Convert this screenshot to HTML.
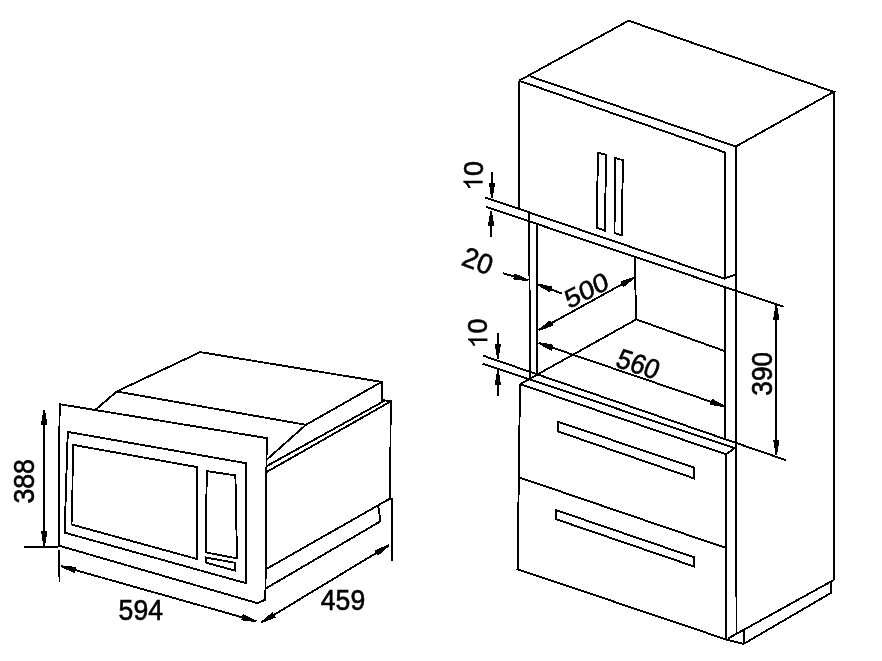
<!DOCTYPE html>
<html><head><meta charset="utf-8"><style>
html,body{margin:0;padding:0;background:#fff;}
svg{display:block;}
path{fill:none;stroke:#000;stroke-linejoin:miter;stroke-linecap:butt;shape-rendering:crispEdges;}
path.f{fill:#000;stroke:none;}
text{font-family:"Liberation Sans",sans-serif;fill:#000;stroke:#000;stroke-width:0.6px;}
svg{filter:grayscale(1);}
</style></head><body>
<svg width="882" height="661" viewBox="0 0 882 661">
<path d="M59.7,404.2 L266.7,438.1 L265.4,599.6 L257.6,603.2 L58.8,545.6 L59.0,470.0 L59.7,404.2 Z" stroke-width="1.9"/>
<path d="M67.8,431.9 L246.0,463.2 L246.1,583.2 L64.9,532.7 L65.6,500.0 L67.8,431.9 Z" stroke-width="1.9"/>
<path d="M72.8,444.8 L196.6,467.0 L197.3,530.0 L196.9,559.0 L71.5,524.5 L72.4,500.0 L72.8,444.8 Z" stroke-width="1.9"/>
<path d="M206.8,471.1 L235.4,475.4 L237.0,558.4 L205.8,552.4 L206.1,520.0 L206.8,471.1 Z" stroke-width="1.9"/>
<path d="M206.2,557.6 L234.6,562.7 L234.6,570.5 L206.2,562.7 Z" stroke-width="1.9"/>
<path d="M95.0,410.2 L116.7,391.5 L200.2,352.1 L381.6,381.9 L382.0,400.2 L390.7,401.0 L390.2,498.0" stroke-width="1.9"/>
<path d="M116.7,391.5 L306.0,424.8 L381.6,381.9" stroke-width="1.9"/>
<path d="M306.0,424.8 L266.7,459.7" stroke-width="1.9"/>
<path d="M266.7,466.1 L384.8,400.6" stroke-width="1.9"/>
<path d="M266.7,472.0 L389.5,402.1" stroke-width="1.9"/>
<path d="M390.3,498.4 L391.7,499.0 L391.7,561.0" stroke-width="1.9"/>
<path d="M265.4,569.5 L390.3,498.4" stroke-width="1.9"/>
<path d="M265.4,588.7 L380.1,521.5 L379.3,512.0 L378.1,505.9" stroke-width="1.9"/>
<path d="M44.2,409.5 L44.2,546.3" stroke-width="1.9"/>
<path class="f" d="M43.40,409.50 L41.00,424.50 L47.40,424.50 L45.00,409.50 Z"/>
<path class="f" d="M45.00,546.30 L47.40,531.30 L41.00,531.30 L43.40,546.30 Z"/>
<path d="M24.1,547.0 L58.1,547.0" stroke-width="1.9"/>
<path d="M59.2,549.7 L59.5,581.7" stroke-width="1.9"/>
<path d="M60.8,566.0 L256.3,621.3" stroke-width="1.9"/>
<path class="f" d="M60.58,566.77 L74.36,573.16 L76.10,567.00 L61.02,565.23 Z"/>
<path class="f" d="M256.52,620.53 L242.74,614.14 L241.00,620.30 L256.08,622.07 Z"/>
<path d="M261.3,622.5 L389.0,545.3" stroke-width="1.9"/>
<path class="f" d="M261.71,623.18 L275.79,617.48 L272.48,612.00 L260.89,621.82 Z"/>
<path class="f" d="M388.59,544.62 L374.51,550.32 L377.82,555.80 L389.41,545.98 Z"/>
<text x="0" y="0" font-size="28" text-anchor="middle" transform="translate(140.8,620.2) scale(0.95,1.03)">594</text>
<text x="0" y="0" font-size="28" text-anchor="middle" transform="translate(343,609.5) scale(0.95,1.03)">459</text>
<text x="0" y="0" font-size="28" text-anchor="middle" transform="translate(34,481.3) rotate(-90) scale(0.95,1.03)">388</text>
<path d="M519.1,80.7 L628.6,20.7 L833.7,91.8 L735.8,146.5" stroke-width="1.9"/>
<path d="M530.0,76.3 L735.8,146.5" stroke-width="1.9"/>
<path d="M519.1,80.7 L725.5,152.6" stroke-width="1.9"/>
<path d="M833.8,91.8 L833.9,579.9" stroke-width="1.9"/>
<path d="M735.9,146.5 L736.5,633.5" stroke-width="1.9"/>
<path d="M725.2,152.6 L725.2,279.0" stroke-width="1.9"/>
<path d="M725.2,287.3 L725.2,439.0" stroke-width="1.9"/>
<path d="M519.1,80.7 L519.1,208.6" stroke-width="1.9"/>
<path d="M485.1,197.4 L724.2,278.7 L735.4,274.6" stroke-width="1.9"/>
<path d="M486.1,206.9 L783.5,306.7" stroke-width="1.9"/>
<path d="M529.0,212.3 L530.2,378.6" stroke-width="1.9"/>
<path d="M536.8,223.9 L537.0,374.5" stroke-width="1.9"/>
<path d="M634.9,258.2 L636.0,319.5" stroke-width="1.9"/>
<path d="M636.3,319.4 L520.0,384.2" stroke-width="1.9"/>
<path d="M636.3,319.4 L724.6,351.0" stroke-width="1.9"/>
<path d="M483.2,355.7 L785.8,460.1" stroke-width="1.9"/>
<path d="M482.5,363.6 L734.7,448.1" stroke-width="1.9"/>
<path d="M520.0,384.1 L725.9,454.3 L734.7,448.1" stroke-width="1.9"/>
<path d="M520.0,384.1 L517.6,568.9" stroke-width="1.9"/>
<path d="M726.3,454.3 L726.3,639.3" stroke-width="1.9"/>
<path d="M519.8,477.6 L726.6,548.2" stroke-width="1.9"/>
<path d="M516.7,568.9 L726.3,639.5 L743.6,643.9" stroke-width="1.9"/>
<path d="M557.7,421.8 L694.0,467.5 L694.0,478.4 L557.7,431.3 Z" stroke-width="1.9"/>
<path d="M556.3,510.2 L694.1,557.3 L694.1,566.5 L556.3,519.3 Z" stroke-width="1.9"/>
<path d="M597.9,152.6 L606.2,154.8 L604.7,230.6 L596.8,227.6 Z" stroke-width="1.9"/>
<path d="M615.0,157.9 L622.9,160.2 L621.8,235.2 L614.5,233.2 Z" stroke-width="1.9"/>
<path d="M833.9,579.9 L728.0,638.5" stroke-width="1.9"/>
<path d="M831.0,581.6 L831.0,592.9 L743.6,643.9 L743.8,630.3" stroke-width="1.9"/>
<path d="M492.0,197.9 L492.0,172.1" stroke-width="1.9"/>
<path class="f" d="M492.80,197.90 L495.20,182.90 L488.80,182.90 L491.20,197.90 Z"/>
<path d="M491.1,211.3 L491.1,237.2" stroke-width="1.9"/>
<path class="f" d="M490.30,211.30 L487.90,226.30 L494.30,226.30 L491.90,211.30 Z"/>
<path d="M528.3,280.4 L503.1,273.3" stroke-width="1.9"/>
<path class="f" d="M528.52,279.63 L514.73,273.25 L512.99,279.41 L528.08,281.17 Z"/>
<path d="M537.2,284.2 L562.0,293.6" stroke-width="1.9"/>
<path class="f" d="M536.92,284.95 L550.09,292.51 L552.36,286.52 L537.48,283.45 Z"/>
<path d="M538.6,330.2 L634.9,277.2" stroke-width="1.9"/>
<path class="f" d="M538.99,330.90 L553.28,325.77 L550.20,320.16 L538.21,329.50 Z"/>
<path class="f" d="M634.51,276.50 L620.22,281.63 L623.30,287.24 L635.29,277.90 Z"/>
<path d="M538.4,342.9 L725.2,406.6" stroke-width="1.9"/>
<path class="f" d="M538.14,343.66 L551.56,350.77 L553.63,344.71 L538.66,342.14 Z"/>
<path class="f" d="M725.46,405.84 L712.04,398.73 L709.97,404.79 L724.94,407.36 Z"/>
<path d="M776.3,305.0 L776.3,454.6" stroke-width="1.9"/>
<path class="f" d="M775.50,305.00 L773.10,320.00 L779.50,320.00 L777.10,305.00 Z"/>
<path class="f" d="M777.10,454.60 L779.50,439.60 L773.10,439.60 L775.50,454.60 Z"/>
<path d="M497.9,358.6 L497.9,332.8" stroke-width="1.9"/>
<path class="f" d="M498.70,358.60 L501.10,343.60 L494.70,343.60 L497.10,358.60 Z"/>
<path d="M497.9,370.4 L497.9,396.3" stroke-width="1.9"/>
<path class="f" d="M497.10,370.40 L494.70,385.40 L501.10,385.40 L498.70,370.40 Z"/>
<g transform="translate(482.7,175.9) rotate(-90)"><path class="f" style="shape-rendering:auto" d="M-4.97,0.00 L-4.97,-19.33 L-6.56,-19.33 L-7.18,-17.82 L-8.53,-16.34 L-10.29,-15.12 L-12.18,-14.26 L-12.18,-11.96 L-10.42,-12.69 L-8.75,-13.63 L-7.34,-14.72 L-7.34,0.00 Z"/><text x="0" y="0" font-size="27">0</text></g>
<g transform="translate(487.4,333.6) rotate(-90)"><path class="f" style="shape-rendering:auto" d="M-4.97,0.00 L-4.97,-19.33 L-6.56,-19.33 L-7.18,-17.82 L-8.53,-16.34 L-10.29,-15.12 L-12.18,-14.26 L-12.18,-11.96 L-10.42,-12.69 L-8.75,-13.63 L-7.34,-14.72 L-7.34,0.00 Z"/><text x="0" y="0" font-size="27">0</text></g>
<text x="0" y="0" font-size="28" text-anchor="middle" transform="translate(772.4,373.7) rotate(-90) scale(0.94,1.03)">390</text>
<text x="0" y="0" font-size="28" text-anchor="middle" transform="matrix(0.9149,0.3512,-0.3420,0.9397,474.47,269.92)">20</text>
<text x="0" y="0" font-size="28" text-anchor="middle" transform="matrix(0.8725,0.2919,-0.3746,0.9272,634.74,373.09)">560</text>
<text x="0" y="0" font-size="28" text-anchor="middle" transform="matrix(0.8910,-0.4540,0.3147,0.8645,589.65,298.57)">500</text>
</svg>
</body></html>
